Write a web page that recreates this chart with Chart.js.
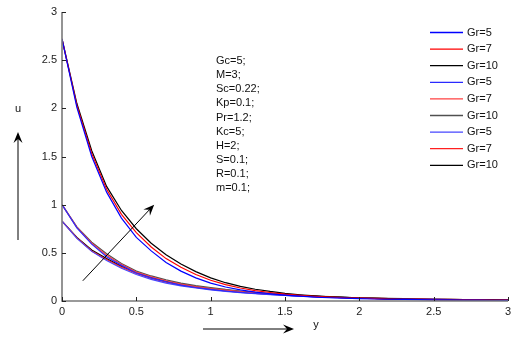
<!DOCTYPE html>
<html><head><meta charset="utf-8">
<script src="https://cdn.jsdelivr.net/npm/chart.js@4/dist/chart.umd.min.js"></script>
<style>html,body{margin:0;padding:0;background:#fff}#wrap{width:517px;height:338px}</style>
</head><body><div id="wrap"><canvas id="c" width="517" height="338"></canvas></div>
<script>
const yGrid = [0,0.1,0.2,0.3,0.4,0.5,0.6,0.7,0.8,0.9,1.0,1.1,1.2,1.3,1.4,1.5,1.6,1.7,1.8,1.9,2.0,2.1,2.2,2.3,2.4,2.5,2.6,2.7,2.8,2.9,3.0];
const xTicks = [0,0.5,1,1.5,2,2.5,3];
const yTicks = [0,0.5,1,1.5,2,2.5,3];
const labels = ["Gr=5","Gr=7","Gr=10","Gr=5","Gr=7","Gr=10","Gr=5","Gr=7","Gr=10"];
const paramText = ["Gc=5;","M=3;","Sc=0.22;","Kp=0.1;","Pr=1.2;","Kc=5;","H=2;","S=0.1;","R=0.1;","m=0.1;"];
const axisLabelX = "y", axisLabelY = "u";

const uA5  = [2.72,2.01,1.50,1.13,0.86,0.66,0.52,0.40,0.31,0.24,0.185,0.145,0.115,0.092,0.075,0.061,0.05,0.041,0.034,0.029,0.025,0.021,0.018,0.016,0.014,0.012,0.011,0.01,0.009,0.008,0.007];
const uA7  = [2.72,2.03,1.53,1.16,0.90,0.71,0.56,0.44,0.35,0.275,0.215,0.17,0.135,0.108,0.088,0.071,0.058,0.048,0.04,0.034,0.029,0.025,0.021,0.018,0.016,0.014,0.013,0.012,0.011,0.01,0.009];
const uA10 = [2.72,2.05,1.56,1.19,0.94,0.75,0.60,0.48,0.385,0.305,0.24,0.19,0.152,0.122,0.099,0.08,0.065,0.053,0.044,0.037,0.031,0.027,0.023,0.02,0.017,0.015,0.014,0.013,0.012,0.011,0.01];
const uB5  = [1.0,0.76,0.59,0.46,0.37,0.29,0.24,0.2,0.165,0.14,0.12,0.104,0.09,0.078,0.068,0.059,0.051,0.045,0.039,0.034,0.03,0.026,0.023,0.021,0.018,0.016,0.015,0.013,0.012,0.011,0.01];
const uB7  = [1.0,0.765,0.60,0.475,0.38,0.30,0.25,0.21,0.175,0.15,0.13,0.112,0.097,0.084,0.073,0.063,0.055,0.048,0.042,0.036,0.032,0.028,0.025,0.022,0.02,0.018,0.016,0.014,0.013,0.012,0.011];
const uB10 = [1.0,0.77,0.61,0.49,0.39,0.31,0.26,0.22,0.185,0.16,0.14,0.12,0.104,0.09,0.078,0.068,0.059,0.051,0.045,0.039,0.034,0.03,0.027,0.024,0.021,0.019,0.017,0.015,0.014,0.013,0.012];
const uC5  = [0.83,0.65,0.515,0.42,0.34,0.275,0.225,0.185,0.157,0.135,0.116,0.1,0.087,0.076,0.066,0.058,0.05,0.044,0.038,0.033,0.029,0.026,0.023,0.02,0.018,0.016,0.014,0.013,0.012,0.011,0.01];
const uC7  = [0.83,0.655,0.52,0.43,0.35,0.285,0.235,0.195,0.165,0.142,0.122,0.106,0.092,0.08,0.07,0.061,0.053,0.046,0.04,0.035,0.031,0.027,0.024,0.021,0.019,0.017,0.015,0.014,0.012,0.011,0.01];
const uC10 = [0.83,0.66,0.53,0.44,0.36,0.295,0.245,0.205,0.175,0.15,0.13,0.113,0.098,0.085,0.074,0.064,0.056,0.049,0.043,0.037,0.033,0.029,0.026,0.023,0.02,0.018,0.016,0.015,0.013,0.012,0.011];

const series = [uA5,uA7,uA10,uB5,uB7,uB10,uC5,uC7,uC10];
const colors = ["#0000ff","#ff0000","#000000","#2a2aff","#ff4040","#505050","#4646ff","#ff2020","#000000"];
// diagonal arrow in data units
const diagArrow = {x0:0.14, y0:0.21, x1:0.62, y1:1.0};

const FONT = "'Liberation Sans', Arial, sans-serif";
const pts = s => s.map((v,i)=>({x:yGrid[i], y:v}));

function arrow(ctx,x0,y0,x1,y1){
  const a=Math.atan2(y1-y0,x1-x0), L=11, W=4.5;
  ctx.beginPath(); ctx.moveTo(x0,y0); ctx.lineTo(x1-Math.cos(a)*6,y1-Math.sin(a)*6); ctx.stroke();
  ctx.beginPath();
  ctx.moveTo(x1,y1);
  ctx.lineTo(x1-L*Math.cos(a)+W*Math.sin(a), y1-L*Math.sin(a)-W*Math.cos(a));
  ctx.lineTo(x1-7*Math.cos(a), y1-7*Math.sin(a));
  ctx.lineTo(x1-L*Math.cos(a)-W*Math.sin(a), y1-L*Math.sin(a)+W*Math.cos(a));
  ctx.closePath(); ctx.fill();
}

const deco = {
  id:'deco',
  afterDatasetsDraw(chart){
    const {ctx, chartArea:ca, scales:{x,y}} = chart;
    ctx.save();
    ctx.strokeStyle='#7a7a7a'; ctx.lineWidth=1.6;
    ctx.beginPath(); ctx.moveTo(ca.left,ca.top); ctx.lineTo(ca.left,ca.bottom); ctx.lineTo(ca.right,ca.bottom); ctx.stroke();
    ctx.strokeStyle='#222'; ctx.lineWidth=1;
    xTicks.forEach(v=>{const px=Math.round(x.getPixelForValue(v))+0.5; ctx.beginPath(); ctx.moveTo(px,ca.bottom); ctx.lineTo(px,ca.bottom-4); ctx.stroke();});
    yTicks.forEach(v=>{const py=Math.round(y.getPixelForValue(v))+0.5; ctx.beginPath(); ctx.moveTo(ca.left,py); ctx.lineTo(ca.left+4,py); ctx.stroke();});
    ctx.fillStyle='#111'; ctx.font='11px '+FONT; ctx.textBaseline='middle'; ctx.textAlign='left';
    paramText.forEach((t,i)=>ctx.fillText(t, ca.left+154, ca.top+49+i*14.15));
    chart.data.datasets.forEach((d,i)=>{
      const ly = ca.top+20.5+i*16.6;
      ctx.strokeStyle=d.borderColor; ctx.lineWidth=1.3;
      ctx.beginPath(); ctx.moveTo(ca.left+368,ly); ctx.lineTo(ca.left+401,ly); ctx.stroke();
      ctx.fillStyle='#111'; ctx.fillText(d.label, ca.left+405, ly);
    });
    ctx.strokeStyle='#000'; ctx.fillStyle='#000'; ctx.lineWidth=1;
    arrow(ctx, x.getPixelForValue(diagArrow.x0), y.getPixelForValue(diagArrow.y0), x.getPixelForValue(diagArrow.x1), y.getPixelForValue(diagArrow.y1));
    arrow(ctx, 18, ca.bottom-61, 18, ca.top+120);
    arrow(ctx, ca.left+141, ca.bottom+28, ca.left+232, ca.bottom+28);
    ctx.fillStyle='#111'; ctx.font='11px '+FONT; ctx.textAlign='center';
    ctx.fillText(axisLabelY, 18, ca.top+97);
    ctx.fillText(axisLabelX, ca.left+254, ca.bottom+24);
    ctx.restore();
  }
};

new Chart(document.getElementById('c'), {
  type:'line',
  data:{ datasets: series.map((s,i)=>({label:labels[i], data:pts(s), borderColor:colors[i], backgroundColor:colors[i], borderWidth:1.2, pointRadius:0, tension:0, fill:false})) },
  options:{
    responsive:false, animation:false, events:[],
    layout:{padding:{top:12,right:9,left:0,bottom:0}},
    plugins:{legend:{display:false}, tooltip:{enabled:false}},
    scales:{
      x:{type:'linear', min:0, max:3, afterBuildTicks:s=>{s.ticks=xTicks.map(v=>({value:v}));},
         afterFit:s=>{s.height=37;},
         grid:{display:false, drawTicks:false}, border:{display:false},
         ticks:{color:'#222', font:{family:FONT,size:11}, padding:4, maxRotation:0, callback:v=>String(v)}},
      y:{min:0, max:3, afterBuildTicks:s=>{s.ticks=yTicks.map(v=>({value:v}));},
         afterFit:s=>{s.width=62;},
         grid:{display:false, drawTicks:false}, border:{display:false},
         ticks:{color:'#222', font:{family:FONT,size:11}, padding:5, callback:v=>String(v)}}
    }
  },
  plugins:[deco]
});
</script></body></html>
